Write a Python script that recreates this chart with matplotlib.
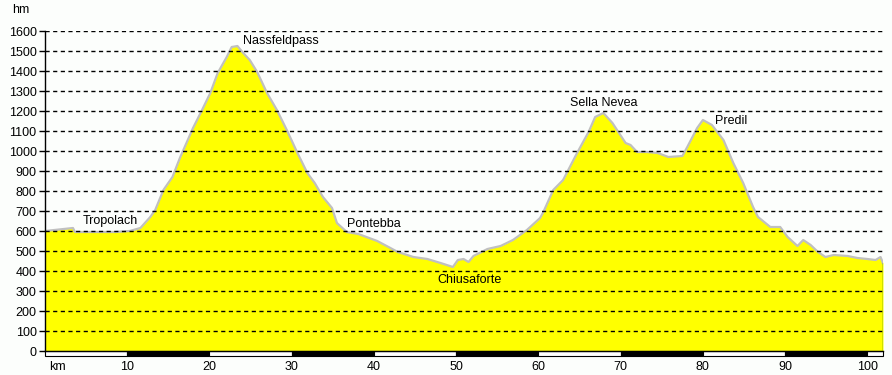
import matplotlib
matplotlib.use("Agg")
from matplotlib import pyplot as plt
from matplotlib.patches import Rectangle

# elevation profile (km, metres)
km = [0, 3.4, 3.65, 8.5, 10.3, 11.6, 12.8, 13.4, 14.4, 15.5, 16.4, 18.0, 19.1,
      20.1, 21.0, 22.1, 22.7, 23.4, 24.1, 24.9, 25.8, 27.0, 28.2, 29.4, 30.7,
      31.9, 32.8, 33.8, 34.9, 35.5, 36.7, 38.1, 40.4, 42.0, 42.9, 44.8, 46.5,
      48.1, 49.6, 50.2, 50.9, 51.5, 52.1, 53.8, 55.4, 56.9, 58.6, 60.2, 60.6,
      61.8, 63.0, 64.7, 66.1, 66.9, 67.9, 69.0, 70.6, 71.2, 72.0, 73.2, 74.5,
      75.8, 77.5, 78.1, 79.3, 80.0, 81.1, 82.5, 83.7, 84.9, 86.1, 86.7, 88.2,
      89.4, 90.3, 91.5, 92.2, 93.1, 94.0, 94.9, 95.9, 97.6, 98.8, 100.0, 101.0,
      101.6, 101.9]
elev = [600, 615, 595, 595, 600, 615, 670, 705, 805, 870, 965, 1115, 1205,
        1290, 1390, 1470, 1520, 1525, 1490, 1455, 1395, 1290, 1205, 1105, 990,
        890, 840, 770, 715, 640, 595, 585, 550, 515, 495, 470, 460,
        440, 420, 455, 460, 445, 475, 510, 525, 555, 605, 665, 695,
        805, 855, 990, 1095, 1170, 1190, 1140, 1040, 1030, 995, 995, 990,
        970, 975, 1020, 1115, 1155, 1130, 1055, 940, 840, 720, 670, 620,
        620, 570, 525, 555, 530, 495, 470, 480, 475, 465, 460, 455,
        470, 440]

places = ["Tropolach", "Nassfeldpass", "Pontebba", "Chiusaforte", "Sella Nevea", "Predil"]
place_km = [4.6, 24.1, 36.7, 47.7, 63.9, 81.5]
place_elev = [650, 1550, 635, 355, 1240, 1150]

km_ticks = [10, 20, 30, 40, 50, 60, 70, 80, 90, 100]
elev_ticks = list(range(0, 1700, 100))

bg = "#fcfefc"
font = "Liberation Sans"

fig = plt.figure(figsize=(8.92, 3.75), dpi=100, facecolor=bg)
ax = fig.add_axes([45 / 892, 1 - 351 / 375, 838 / 892, 320 / 375], facecolor=bg)

ax.fill_between(km, elev, 0, color="#ffff00", lw=0)
ax.plot(km, elev, color="#c0c0c0", lw=1.6)

ax.set_xlim(0, 101.9)
ax.set_ylim(0, 1600)

for y in elev_ticks[1:]:
    ax.axhline(y, color="black", lw=1, ls=(0, (3, 2.5)), zorder=3)

ax.set_yticks(elev_ticks)
ax.set_yticklabels([str(v) for v in elev_ticks], fontfamily=font, fontsize=9)
ax.tick_params(axis="y", length=4, width=1, pad=2)
ax.set_xticks([])

for s in ["top", "right", "bottom"]:
    ax.spines[s].set_visible(False)
ax.spines["left"].set_linewidth(1)

# km scale bar below the axis
for i in range(11):
    x0 = i * 10
    w = min(10, 101.9 - x0)
    ax.add_patch(Rectangle((x0, -27), w, 27, facecolor="white" if i % 2 == 0 else "black",
                           edgecolor="black", lw=0.8, clip_on=False, zorder=4))
ax.plot([0, 101.9], [0, 0], color="black", lw=1, clip_on=False, zorder=5)
ax.plot([101.9, 101.9], [0, 440], color="#006400", lw=1, zorder=5)

for k in km_ticks:
    ax.text(k, -80, str(k), ha="center", va="center", fontfamily=font, fontsize=9)
ax.text(0.5, -80, "km", ha="left", va="center", fontfamily=font, fontsize=9)

for name, x, y in zip(places, place_km, place_elev):
    ax.text(x, y, name, ha="left", va="center", fontfamily=font, fontsize=9, zorder=6)

fig.text(12 / 892, 1 - 10 / 375, "hm", ha="left", va="center", fontfamily=font, fontsize=9)

fig.savefig("out.png", dpi=100, facecolor=bg)
